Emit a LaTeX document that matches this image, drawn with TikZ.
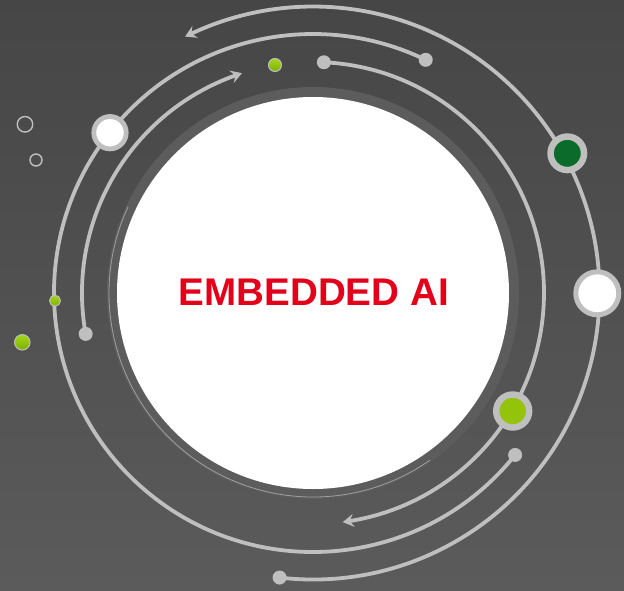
\documentclass[tikz,border=0pt]{standalone}
\usepackage{fontspec}
\newfontfamily\lsans{Liberation Sans}
\usetikzlibrary{arrows.meta,bending,calc}
\definecolor{bgtop}{HTML}{464646}
\definecolor{bgbot}{HTML}{5B5B5B}
\definecolor{lgray}{HTML}{BFBFBF}
\definecolor{ringgray}{HTML}{5C5C5C}
\definecolor{hilite}{HTML}{A0A0A0}
\definecolor{dgreen}{HTML}{0A6B2B}
\definecolor{lgreen}{HTML}{93C30B}
\definecolor{greentop}{HTML}{A4D81A}
\definecolor{greenbot}{HTML}{7DB000}
\definecolor{aired}{HTML}{E3001B}
\tikzset{
  arcline/.style={draw=lgray, line width=3.8, line cap=round},
  arrowed/.style={arcline, -{Stealth[length=11,width=13,inset=4,bend]}},
  enddot/.style={circle, fill=lgray, minimum size=14, inner sep=0pt},
  ringnode/.style={circle, draw=lgray, inner sep=0pt},
  smallgreen/.style={circle, draw=lgray, line width=1, top color=greentop, bottom color=greenbot, inner sep=0pt},
  hollow/.style={circle, draw=lgray, line width=1.4, inner sep=0pt}
}
\begin{document}
\begin{tikzpicture}[x=1pt,y=-1pt]
\useasboundingbox (0,0) rectangle (624,590);
\shade[top color=bgtop, bottom color=bgbot] (0,0) rectangle (624,590);
\coordinate (C) at (313,293);
% central disc and ring
\fill[ringgray] (C) circle[radius=206];
\coordinate (h1) at ($(C)+(55:204)$);
\draw[hilite, line width=0.8] (h1) arc[start angle=55, end angle=205, radius=204];
\node[circle, fill=white, minimum size=392, inner sep=0pt] (disc) at (C) {};
\node[text=aired, font=\lsans\bfseries\fontsize{38.6}{40}\selectfont] (title) at (313.8,292.5) {EMBEDDED AI};
% arc endpoints
\coordinate (a1) at ($(C)+(96.7:286.5)$);
\coordinate (b1) at ($(C)+(38.7:259)$);
\coordinate (c1) at ($(C)+(-87.3:231)$);
\coordinate (d1) at ($(C)+(169.8:231)$);
% arcs
\draw[arrowed] (a1) arc[start angle=96.7, end angle=-116.5, radius=286.5];
\draw[arcline] (b1) arc[start angle=38.7, end angle=295.8, radius=259] coordinate (b2);
\draw[arrowed] (c1) arc[start angle=-87.3, end angle=82.6, radius=231];
\draw[arrowed] (d1) arc[start angle=169.8, end angle=252.1, radius=231];
% end dots
\node[enddot] (da1) at (a1) {};
\node[enddot] (db1) at (b1) {};
\node[enddot] (db2) at (b2) {};
\node[enddot] (dc1) at (c1) {};
\node[enddot] (dd1) at (d1) {};
% nodes on arcs
\node[ringnode, fill=white, line width=5, minimum size=43] (wbig) at (597.3,293.3) {};
\node[ringnode, fill=dgreen, line width=6.5, minimum size=33.5] (gdark) at (567.3,153.3) {};
\node[ringnode, fill=lgreen, line width=6.4, minimum size=33] (glight) at (512.7,411) {};
\node[ringnode, fill=white, line width=4.8, minimum size=32.4] (wsmall) at (110,132.7) {};
\node[smallgreen, minimum size=11] (gs1) at (55,300.7) {};
\node[smallgreen, minimum size=13] (gs2) at (275,65) {};
% loose decorations
\node[smallgreen, minimum size=15.5] (gs3) at (22.3,342.3) {};
\node[hollow, minimum size=15.5] (o1) at (25,124.3) {};
\node[hollow, minimum size=12] (o2) at (36,160) {};
\end{tikzpicture}
\end{document}
